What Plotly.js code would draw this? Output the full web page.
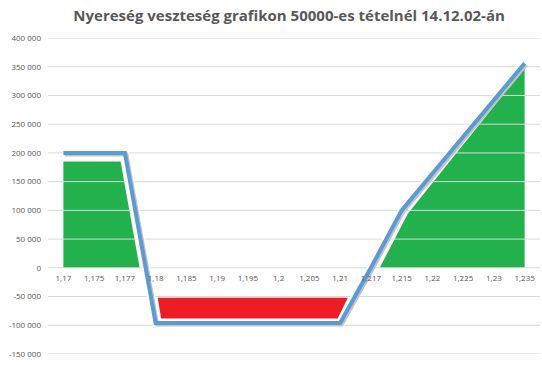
<!DOCTYPE html>
<html>
<head>
<meta charset="utf-8">
<script src="https://cdn.plot.ly/plotly-3.0.1.min.js"></script>
<style>html,body{margin:0;padding:0;background:#fff;}#chart{width:542px;height:365px;}</style>
</head>
<body>
<div id="chart"></div>
<script>
// Categories (price levels) and profit/loss values
const categories = ["1,17","1,175","1,177","1,18","1,185","1,19","1,195","1,2","1,205","1,21","1,217","1,215","1,22","1,225","1,23","1,235"];
const profitLoss = [200000,200000,200000,-96000,-96000,-96000,-96000,-96000,-96000,-96000,0,100000,164000,228000,292000,356000];

// Green (profit) areas and red (loss) area, positions in category index units
const profitLeftX = [0, 0, 1.86, 2.48];
const profitLeftY = [0, 185000, 185000, 0];
const profitRightX = [10.29, 11.2, 15, 15];
const profitRightY = [0, 94000, 348000, 0];
const lossX = [3.07, 9.25, 8.92, 3.18];
const lossY = [-52000, -52000, -88000, -88000];

// Y axis ticks
const yTickVals = [-150000,-100000,-50000,0,50000,100000,150000,200000,250000,300000,350000,400000];
const yTickText = ["-150 000","-100 000","-50 000","0","50 000","100 000","150 000","200 000","250 000","300 000","350 000","400 000"];

const idx = categories.map((c, i) => i);
const xMin = -0.5, xMax = categories.length - 0.5;
const yMin = -150000, yMax = 400000;

// shadow offset (in pixels) expressed through a shifted overlay axis
const plotW = 492, plotH = 316, shadowPx = 1.5;
const dx = shadowPx * (xMax - xMin) / plotW;
const dy = shadowPx * (yMax - yMin) / plotH;

const gridX = [], gridY = [];
yTickVals.forEach(v => { gridX.push(xMin, xMax, null); gridY.push(v, v, null); });

const traces = [
  {x: profitLeftX, y: profitLeftY, type: 'scatter', mode: 'lines', fill: 'toself',
   fillcolor: '#22B14C', line: {width: 0, color: '#22B14C'}, hoverinfo: 'skip'},
  {x: profitRightX, y: profitRightY, type: 'scatter', mode: 'lines', fill: 'toself',
   fillcolor: '#22B14C', line: {width: 0, color: '#22B14C'}, hoverinfo: 'skip'},
  {x: lossX, y: lossY, type: 'scatter', mode: 'lines', fill: 'toself',
   fillcolor: '#EE1C25', line: {width: 0, color: '#EE1C25'}, hoverinfo: 'skip'},
  {x: gridX, y: gridY, type: 'scatter', mode: 'lines', connectgaps: false,
   line: {width: 1, color: '#D9D9D9'}, hoverinfo: 'skip'},
  {x: idx, y: profitLoss, type: 'scatter', mode: 'lines',
   line: {width: 8, color: '#FFFFFF'}, hoverinfo: 'skip'},
  {x: idx, y: profitLoss, type: 'scatter', mode: 'lines', xaxis: 'x2', yaxis: 'y2',
   line: {width: 4, color: 'rgba(120,120,120,0.45)'}, hoverinfo: 'skip'},
  {x: idx, y: profitLoss, type: 'scatter', mode: 'lines', xaxis: 'x3', yaxis: 'y3',
   line: {width: 4, color: '#5B9BD5'}, hoverinfo: 'skip'}
];

const hiddenAxis = {visible: false, showgrid: false, zeroline: false, fixedrange: true};

const layout = {
  width: 542, height: 365,
  margin: {l: 48, r: 2, t: 38, b: 11, pad: 0},
  paper_bgcolor: '#FFFFFF', plot_bgcolor: '#FFFFFF',
  showlegend: false,
  title: {
    text: 'Nyereség veszteség grafikon 50000-es tételnél 14.12.02-án',
    font: {family: 'Open Sans', size: 15, color: '#595959', weight: 'bold'},
    x: 0.49, xanchor: 'center', xref: 'paper',
    y: 0.957, yanchor: 'middle', yref: 'container'
  },
  xaxis: {
    range: [xMin, xMax], tickmode: 'array', tickvals: idx, ticktext: categories,
    showgrid: false, zeroline: false, showline: false, ticks: '',
    anchor: 'free', position: (0 - yMin) / (yMax - yMin),
    tickfont: {family: 'Open Sans', size: 8, color: '#595959'},
    ticklabelstandoff: 4, fixedrange: true
  },
  yaxis: {
    range: [yMin, yMax], domain: [0, 1], tickmode: 'array',
    tickvals: yTickVals, ticktext: yTickText,
    showgrid: false, zeroline: false, showline: false, ticks: '',
    tickfont: {family: 'Open Sans', size: 8, color: '#595959'},
    ticklabelstandoff: 6, fixedrange: true
  },
  xaxis2: Object.assign({}, hiddenAxis, {overlaying: 'x', range: [xMin - dx, xMax - dx]}),
  yaxis2: Object.assign({}, hiddenAxis, {overlaying: 'y', range: [yMin + dy, yMax + dy]}),
  xaxis3: Object.assign({}, hiddenAxis, {overlaying: 'x', range: [xMin, xMax]}),
  yaxis3: Object.assign({}, hiddenAxis, {overlaying: 'y', range: [yMin, yMax]})
};

Plotly.newPlot('chart', traces, layout, {displayModeBar: false, staticPlot: true});
</script>
</body>
</html>
